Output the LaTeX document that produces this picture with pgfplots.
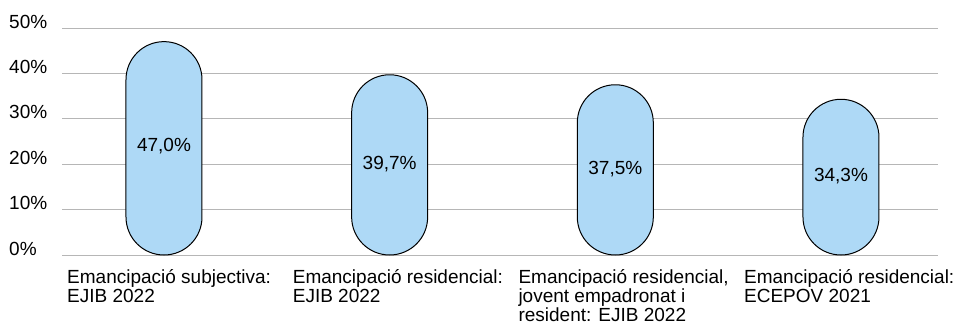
\documentclass[border=0pt]{standalone}
\usepackage{pgfplots}
\pgfplotsset{compat=1.18}
\usepackage{fontspec}
\setmainfont{Liberation Sans}
\definecolor{barblue}{RGB}{174,217,246}
\definecolor{gridgray}{RGB}{182,182,182}
\begin{document}
\begin{tikzpicture}
\useasboundingbox (-62bp,-72bp) rectangle (894bp,255bp);
\begin{axis}[
 scale only axis, width=876bp, height=227bp,
 xmin=-0.452, xmax=3.43, ymin=0, ymax=50,
 axis line style={draw=none},
 major tick length=0pt,
 ytick={0,10,20,30,40,50},
 yticklabels={0\%,10\%,20\%,30\%,40\%,50\%},
 ymajorgrids, grid style={gridgray, line width=1bp},
 xtick={0,1,2,3},
 xticklabels={{Emancipació subjectiva:\\EJIB 2022},{Emancipació residencial:\\EJIB 2022},{Emancipació residencial,\\jovent empadronat i\\resident: EJIB 2022},{Emancipació residencial:\\ECEPOV 2021}},
 tick label style={font=\fontsize{19bp}{19bp}\selectfont},
 yticklabel style={anchor=base west, inner sep=0pt, xshift=-53bp},
 xticklabel style={anchor=north west, align=left, inner sep=0pt, xshift=-97bp, yshift=-14bp},
 clip=false,
]
\addplot[ybar, bar width=76bp, fill=barblue, draw=black, line width=1bp, rounded corners=38bp] coordinates {(0,47.0) (1,39.7) (2,37.5) (3,34.3)};
\addplot[only marks, mark=none, nodes near coords, point meta=explicit symbolic,
  nodes near coords style={anchor=center, inner sep=0pt, font=\fontsize{19bp}{19bp}\selectfont}]
  coordinates {(0,24.0)[47,0\%] (1,20.0)[39,7\%] (2,18.9)[37,5\%] (3,17.3)[34,3\%]};
\end{axis}
\end{tikzpicture}
\end{document}
